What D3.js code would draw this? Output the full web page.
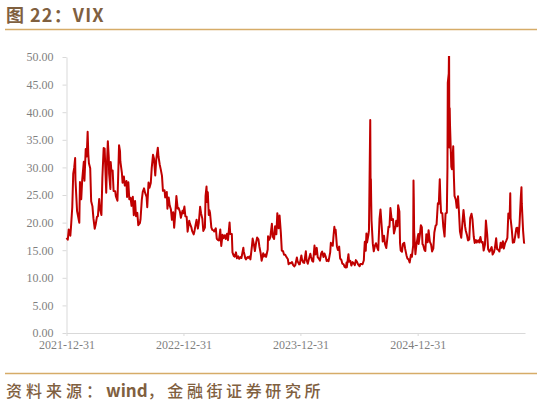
<!DOCTYPE html>
<html>
<head>
<meta charset="utf-8">
<script src="https://cdn.jsdelivr.net/npm/d3@7"></script>
<style>
  html, body { margin: 0; padding: 0; background: #fff; }
  svg { display: block; }
  .tick text { font-family: "Liberation Serif", "Times New Roman", serif; font-size: 12px; fill: #7f7f7f; }
  .tick line, .domain { stroke: #d9d9d9; }
</style>
</head>
<body>
<svg id="chart" width="537" height="406"></svg>
<script>
const vix2022 = [
  ["2021-12-31",17.22],["2022-01-04",16.91],["2022-01-07",18.76],["2022-01-12",17.62],
  ["2022-01-14",19.19],["2022-01-18",22.79],["2022-01-21",28.85],["2022-01-24",29.90],
  ["2022-01-27",31.70],["2022-01-28",27.66],["2022-02-02",22.09],["2022-02-09",19.96],
  ["2022-02-11",27.36],["2022-02-15",24.24],["2022-02-18",27.75],["2022-02-23",31.02],
  ["2022-02-25",27.59],["2022-03-01",33.32],["2022-03-04",31.98],["2022-03-07",36.45],
  ["2022-03-09",32.45],["2022-03-11",30.75],["2022-03-15",29.83],["2022-03-18",23.87],
  ["2022-03-22",22.94],["2022-03-25",20.81],["2022-03-29",18.90],["2022-04-01",19.63],
  ["2022-04-05",21.03],["2022-04-08",21.16],["2022-04-12",24.26],["2022-04-14",22.70],
  ["2022-04-19",21.37],["2022-04-22",28.21],["2022-04-26",33.52],["2022-04-29",33.40],
  ["2022-05-04",25.42],["2022-05-06",30.19],["2022-05-09",34.75],["2022-05-12",31.77],
  ["2022-05-13",28.87],["2022-05-17",26.10],["2022-05-18",30.96],["2022-05-20",29.43],
  ["2022-05-24",29.45],["2022-05-27",25.72],["2022-06-01",25.69],["2022-06-03",24.79],
  ["2022-06-08",23.96],["2022-06-10",27.75],["2022-06-13",34.02],["2022-06-16",32.95],
  ["2022-06-17",31.13],["2022-06-22",28.95],["2022-06-24",27.23],["2022-06-28",28.36],
  ["2022-07-01",26.70],["2022-07-06",27.54],["2022-07-08",24.64],["2022-07-12",27.29],
  ["2022-07-15",24.23],["2022-07-19",24.50],["2022-07-22",23.03],["2022-07-26",24.69],
  ["2022-07-29",21.33],["2022-08-02",23.93],["2022-08-05",21.15],["2022-08-09",21.77],
  ["2022-08-12",19.53],["2022-08-17",19.90],["2022-08-19",20.60],["2022-08-23",24.11],
  ["2022-08-26",25.56],["2022-08-30",26.21],["2022-09-02",25.47],["2022-09-07",24.64],
  ["2022-09-09",22.79],["2022-09-13",27.27],["2022-09-16",26.30],["2022-09-20",27.16],
  ["2022-09-23",29.92],["2022-09-27",32.27],["2022-09-30",31.62],["2022-10-04",28.55],
  ["2022-10-07",31.36],["2022-10-12",33.57],["2022-10-14",32.02],["2022-10-18",30.50],
  ["2022-10-21",29.69],["2022-10-25",28.46],["2022-10-28",25.75],["2022-11-02",25.86],
  ["2022-11-04",24.55],["2022-11-09",25.54],["2022-11-11",22.52],["2022-11-15",24.54],
  ["2022-11-18",23.12],["2022-11-22",22.36],["2022-11-25",20.50],["2022-11-29",21.89],
  ["2022-12-02",19.06],["2022-12-06",22.00],["2022-12-09",24.80],["2022-12-13",22.55],
  ["2022-12-16",22.62],["2022-12-20",21.97],["2022-12-23",20.87],["2022-12-28",22.14],
  ["2022-12-30",21.67]
];

const vix2023 = [
  ["2023-01-03",22.90],["2023-01-06",21.13],["2023-01-10",21.07],["2023-01-13",18.35],
  ["2023-01-18",20.34],["2023-01-20",19.85],["2023-01-25",19.08],["2023-01-27",18.51],
  ["2023-02-01",17.87],["2023-02-03",18.33],["2023-02-07",19.63],["2023-02-10",20.53],
  ["2023-02-14",18.91],["2023-02-17",20.02],["2023-02-21",22.87],["2023-02-24",21.67],
  ["2023-02-28",20.70],["2023-03-03",18.49],["2023-03-08",19.11],["2023-03-10",24.80],
  ["2023-03-13",26.52],["2023-03-15",23.73],["2023-03-17",25.51],["2023-03-20",21.38],
  ["2023-03-22",22.26],["2023-03-24",21.74],["2023-03-28",19.12],["2023-03-31",18.70],
  ["2023-04-04",18.58],["2023-04-06",18.40],["2023-04-11",18.97],["2023-04-14",17.07],
  ["2023-04-18",16.83],["2023-04-21",16.77],["2023-04-25",18.76],["2023-04-28",15.78],
  ["2023-05-02",17.78],["2023-05-05",17.19],["2023-05-09",17.71],["2023-05-12",17.03],
  ["2023-05-16",17.99],["2023-05-19",16.81],["2023-05-24",20.03],["2023-05-26",17.95],
  ["2023-05-31",17.94],["2023-06-02",14.60],["2023-06-06",13.96],["2023-06-09",13.83],
  ["2023-06-13",14.61],["2023-06-16",13.54],["2023-06-20",13.88],["2023-06-23",13.44],
  ["2023-06-27",13.74],["2023-06-30",13.59],["2023-07-06",15.44],["2023-07-07",14.83],
  ["2023-07-12",13.54],["2023-07-14",13.34],["2023-07-19",13.76],["2023-07-21",13.60],
  ["2023-07-25",13.86],["2023-07-28",13.33],["2023-08-02",15.88],["2023-08-04",17.10],
  ["2023-08-08",15.99],["2023-08-11",14.84],["2023-08-15",16.46],["2023-08-18",17.30],
  ["2023-08-22",16.97],["2023-08-25",15.68],["2023-08-29",14.45],["2023-09-01",13.09],
  ["2023-09-06",14.45],["2023-09-08",13.84],["2023-09-12",14.23],["2023-09-15",13.79],
  ["2023-09-20",15.14],["2023-09-21",17.54],["2023-09-25",16.90],["2023-09-28",17.34],
  ["2023-10-03",19.78],["2023-10-06",17.45],["2023-10-10",17.03],["2023-10-13",19.32],
  ["2023-10-17",17.88],["2023-10-20",21.71],["2023-10-24",18.97],["2023-10-27",21.27],
  ["2023-10-31",18.14],["2023-11-03",14.91],["2023-11-07",14.81],["2023-11-10",14.17],
  ["2023-11-14",14.16],["2023-11-17",13.80],["2023-11-22",13.35],["2023-11-24",12.46],
  ["2023-11-28",12.69],["2023-12-01",12.63],["2023-12-05",12.85],["2023-12-08",12.35],
  ["2023-12-12",12.07],["2023-12-15",12.28],["2023-12-20",13.67],["2023-12-22",13.03],
  ["2023-12-27",12.43],["2023-12-29",12.45]
];

const vix2024 = [
  ["2024-01-03",14.04],["2024-01-05",13.35],["2024-01-09",12.76],["2024-01-12",12.70],
  ["2024-01-17",14.79],["2024-01-19",13.30],["2024-01-23",12.55],["2024-01-26",13.26],
  ["2024-01-31",14.35],["2024-02-02",13.85],["2024-02-06",13.06],["2024-02-09",12.93],
  ["2024-02-13",15.85],["2024-02-16",14.24],["2024-02-20",15.42],["2024-02-23",13.75],
  ["2024-02-27",13.43],["2024-03-01",13.11],["2024-03-05",14.46],["2024-03-08",14.74],
  ["2024-03-12",13.75],["2024-03-15",14.41],["2024-03-19",13.82],["2024-03-22",13.06],
  ["2024-03-26",13.24],["2024-03-28",13.01],["2024-04-02",14.61],["2024-04-04",16.35],
  ["2024-04-05",16.03],["2024-04-10",15.80],["2024-04-12",17.31],["2024-04-15",19.23],
  ["2024-04-17",18.21],["2024-04-19",18.71],["2024-04-23",15.69],["2024-04-26",15.03],
  ["2024-04-30",15.65],["2024-05-03",13.49],["2024-05-07",13.23],["2024-05-10",12.55],
  ["2024-05-14",12.42],["2024-05-17",11.99],["2024-05-21",11.86],["2024-05-23",12.77],
  ["2024-05-24",11.93],["2024-05-29",14.28],["2024-05-31",12.92],["2024-06-04",13.06],
  ["2024-06-07",12.22],["2024-06-11",12.85],["2024-06-14",12.66],["2024-06-18",12.30],
  ["2024-06-21",13.20],["2024-06-25",12.84],["2024-06-28",12.44],["2024-07-03",12.09],
  ["2024-07-05",12.48],["2024-07-09",12.51],["2024-07-12",12.46],["2024-07-16",13.19],
  ["2024-07-17",14.48],["2024-07-19",16.52],["2024-07-22",14.91],["2024-07-24",18.04],
  ["2024-07-26",16.39],["2024-07-30",17.69],["2024-08-01",18.59],["2024-08-02",23.39],
  ["2024-08-05",38.57],["2024-08-06",27.71],["2024-08-07",27.85],["2024-08-08",23.79],
  ["2024-08-09",20.37],["2024-08-13",16.19],["2024-08-16",14.80],["2024-08-20",15.88],
  ["2024-08-23",16.27],["2024-08-27",15.43],["2024-08-30",15.00],["2024-09-03",20.72],
  ["2024-09-06",22.38],["2024-09-10",19.08],["2024-09-13",16.56],["2024-09-17",17.61],
  ["2024-09-20",16.15],["2024-09-24",15.39],["2024-09-27",16.96],["2024-10-01",19.26],
  ["2024-10-04",19.21],["2024-10-07",22.64],["2024-10-11",20.46],["2024-10-15",20.64],
  ["2024-10-18",18.03],["2024-10-23",19.24],["2024-10-25",20.33],["2024-10-29",19.34],
  ["2024-10-31",23.16],["2024-11-04",21.98],["2024-11-06",16.27],["2024-11-08",14.94],
  ["2024-11-12",14.71],["2024-11-15",16.14],["2024-11-19",16.35],["2024-11-22",15.24],
  ["2024-11-26",14.10],["2024-11-29",13.51],["2024-12-03",13.30],["2024-12-06",12.77],
  ["2024-12-10",14.18],["2024-12-13",13.81],["2024-12-17",15.87],["2024-12-18",27.62],
  ["2024-12-19",24.09],["2024-12-20",18.36],["2024-12-24",14.27],["2024-12-27",15.95],
  ["2024-12-31",17.35]
];

const vix2025 = [
  ["2025-01-02",17.93],["2025-01-03",16.13],["2025-01-07",17.82],["2025-01-10",19.54],
  ["2025-01-13",19.19],["2025-01-15",16.12],["2025-01-17",15.97],["2025-01-21",15.06],
  ["2025-01-24",14.85],["2025-01-27",17.90],["2025-01-29",16.56],["2025-01-31",16.43],
  ["2025-02-03",18.62],["2025-02-07",16.54],["2025-02-11",16.02],["2025-02-14",14.77],
  ["2025-02-18",15.35],["2025-02-21",18.21],["2025-02-25",19.43],["2025-02-28",19.63],
  ["2025-03-04",23.51],["2025-03-07",23.37],["2025-03-10",27.86],["2025-03-12",24.23],
  ["2025-03-14",21.77],["2025-03-18",21.70],["2025-03-21",19.28],["2025-03-25",17.48],
  ["2025-03-28",21.65],["2025-04-01",21.77],["2025-04-03",30.02],["2025-04-04",45.31],
  ["2025-04-07",46.98],["2025-04-08",52.33],["2025-04-09",33.62],["2025-04-10",40.72],
  ["2025-04-11",37.56],["2025-04-15",30.12],["2025-04-17",29.65],["2025-04-21",33.82],
  ["2025-04-23",28.45],["2025-04-25",24.84],["2025-04-29",24.17],["2025-05-02",22.68],
  ["2025-05-06",24.76],["2025-05-09",21.90],["2025-05-12",18.39],["2025-05-16",17.24],
  ["2025-05-21",20.87],["2025-05-23",22.29],["2025-05-28",19.31],["2025-05-30",18.57],
  ["2025-06-03",17.69],["2025-06-06",16.77],["2025-06-10",16.95],["2025-06-13",20.82],
  ["2025-06-17",21.60],["2025-06-20",20.62],["2025-06-24",17.48],["2025-06-27",16.32],
  ["2025-07-01",16.83],["2025-07-03",16.38],["2025-07-08",16.81],["2025-07-11",16.40],
  ["2025-07-15",17.38],["2025-07-18",16.41],["2025-07-22",16.50],["2025-07-25",14.93],
  ["2025-07-29",15.98],["2025-08-01",20.38],["2025-08-05",17.85],["2025-08-08",15.15],
  ["2025-08-12",14.73],["2025-08-15",15.09],["2025-08-19",15.57],["2025-08-22",14.22],
  ["2025-08-26",14.62],["2025-08-29",15.36],["2025-09-02",17.17],["2025-09-05",15.18],
  ["2025-09-09",15.04],["2025-09-12",14.76],["2025-09-16",16.36],["2025-09-19",15.45],
  ["2025-09-23",16.64],["2025-09-26",15.29],["2025-09-30",16.28],["2025-10-03",16.65],
  ["2025-10-07",17.24],["2025-10-10",21.66],["2025-10-14",20.81],["2025-10-16",25.31],
  ["2025-10-17",20.78],["2025-10-21",18.60],["2025-10-24",16.37],["2025-10-28",16.42],
  ["2025-10-31",17.44],["2025-11-04",19.00],["2025-11-07",19.08],["2025-11-11",17.28],
  ["2025-11-14",19.83],["2025-11-18",24.69],["2025-11-20",26.42],["2025-11-21",23.43],
  ["2025-11-25",18.56],["2025-11-28",16.35],["2025-12-01",16.40]
];

const xTickDates = ["2021-12-31", "2022-12-31", "2023-12-31", "2024-12-31"];
const yTicks = [0, 5, 10, 15, 20, 25, 30, 35, 40, 45, 50];

const parse = d3.timeParse("%Y-%m-%d");
const series = [...vix2022, ...vix2023, ...vix2024, ...vix2025]
  .map(([d, v]) => ({ date: parse(d), value: v }));

const svg = d3.select("#chart");
const brown = "#80603f";
const cjk = "'Noto Sans CJK SC', sans-serif";

// Header and footer
const title = svg.append("text")
  .attr("x", 6).attr("y", 22)
  .attr("font-family", cjk)
  .attr("font-size", 18).attr("font-weight", "bold")
  .attr("fill", brown);
title.append("tspan").text("图");
title.append("tspan").attr("x", 30).attr("letter-spacing", 1.2).text("22：VIX");

svg.append("line")
  .attr("x1", 5).attr("x2", 537).attr("y1", 29.5).attr("y2", 29.5)
  .attr("stroke", "#d6ac68").attr("stroke-width", 1.5);

svg.append("line")
  .attr("x1", 5).attr("x2", 537).attr("y1", 373.5).attr("y2", 373.5)
  .attr("stroke", "#d6ac68").attr("stroke-width", 1.5);

const source = svg.append("text")
  .attr("x", 6).attr("y", 397)
  .attr("font-family", cjk)
  .attr("font-size", 16).attr("font-weight", 500)
  .attr("fill", brown);
source.append("tspan").attr("letter-spacing", 4).text("资料来源：");
source.append("tspan").attr("font-size", 17).attr("font-weight", "bold").text("wind");
source.append("tspan").attr("letter-spacing", 3.6).text("，金融街证券研究所");

// Scales
const x = d3.scaleTime()
  .domain([parse("2021-12-31"), parse("2025-12-01")])
  .range([66.5, 525]);
const y = d3.scaleLinear().domain([0, 50]).range([333, 57]);

// Axes
svg.append("g")
  .attr("transform", "translate(66.5,0)")
  .call(d3.axisLeft(y).tickValues(yTicks).tickFormat(d3.format(".2f"))
    .tickSize(4).tickSizeOuter(0).tickPadding(9));

svg.append("g")
  .attr("transform", "translate(0,333)")
  .call(d3.axisBottom(x).tickValues(xTickDates.map(parse))
    .tickFormat(d3.timeFormat("%Y-%m-%d"))
    .tickSize(3).tickSizeOuter(0).tickPadding(4));

// Line, clipped at the 50 ceiling
svg.append("clipPath").attr("id", "plot-clip")
  .append("rect").attr("x", 60).attr("y", 56).attr("width", 470).attr("height", 280);

const line = d3.line()
  .x(d => x(d.date))
  .y(d => y(d.value));

svg.append("path")
  .datum(series)
  .attr("clip-path", "url(#plot-clip)")
  .attr("fill", "none")
  .attr("stroke", "#c00000")
  .attr("stroke-width", 2)
  .attr("stroke-linejoin", "round")
  .attr("d", line);
</script>
</body>
</html>
